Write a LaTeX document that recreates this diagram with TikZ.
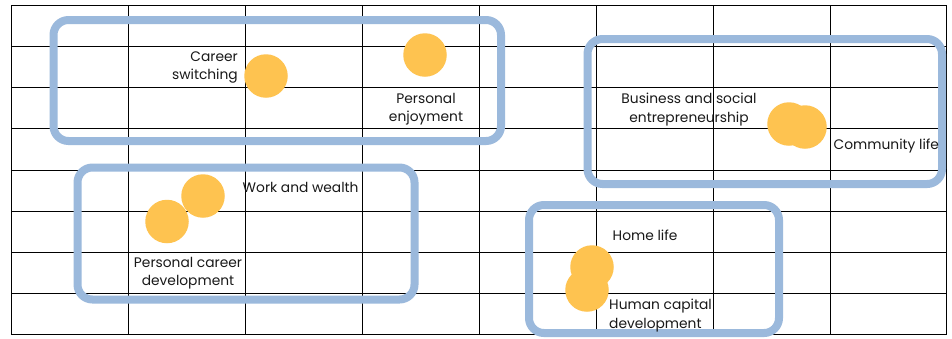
\documentclass[tikz,border=0pt]{standalone}
\usepackage{fontspec}
\setmainfont{Poppins}
\definecolor{boxblue}{RGB}{155,185,220}
\definecolor{dotorange}{RGB}{254,195,80}
\begin{document}
\begin{tikzpicture}[x=1pt,y=-1pt,
  gridline/.style={draw=black,line width=0.85pt},
  group/.style={draw=boxblue,line width=8pt,rounded corners=15pt},
  dot/.style={circle,fill=dotorange,draw=none,minimum size=43.5pt,inner sep=0pt},
  lbl/.style={inner sep=0pt,font=\fontsize{13.8}{18.3}\selectfont,text=black!90}]
\useasboundingbox (0,0) rectangle (952,338);
\fill[white] (0,0) rectangle (952,338);
% grid
\draw[gridline] (11,5) rectangle (946,334);
\foreach \gx in {128,245,362,479,596,713,830} \draw[gridline] (\gx,5) -- (\gx,334);
\foreach \gy in {46,87,128,170,211,252,293} \draw[gridline] (11,\gy) -- (946,\gy);
% groups
\draw[group] (53.5,20) rectangle (501,141);
\draw[group] (77.5,167.5) rectangle (414.5,299.5);
\draw[group] (587.5,39) rectangle (942,184);
\draw[group] (529,205) rectangle (779,333);
% dots
\node[dot] (cs) at (266,76) {};
\node[dot] (pe) at (425,55) {};
\node[dot] (bs1) at (789,124) {};
\node[dot] (bs2) at (805,127) {};
\node[dot] (ww) at (203,196) {};
\node[dot] (pc) at (167,221.5) {};
\node[dot] (hl) at (592,267) {};
\node[dot] (hc) at (587,290) {};
% labels
\node[lbl,anchor=east,align=right] (tcs) at (238,67.5) {Career\\switching};
\node[lbl,align=center] (tpe) at (426,109) {Personal\\enjoyment};
\node[lbl,align=center] (tbs) at (689,109.5) {Business and social\\entrepreneurship};
\node[lbl,anchor=west] (tcl) at (833.5,146.5) {Community life};
\node[lbl,anchor=west] (tww) at (242.5,187.5) {Work and wealth};
\node[lbl,align=center] (tpc) at (188,273.5) {Personal career\\development};
\node[lbl,anchor=west] (thl) at (612.5,235) {Home life};
\node[lbl,anchor=west,align=left] (thc) at (609,315.5) {Human capital\\development};
\end{tikzpicture}
\end{document}
